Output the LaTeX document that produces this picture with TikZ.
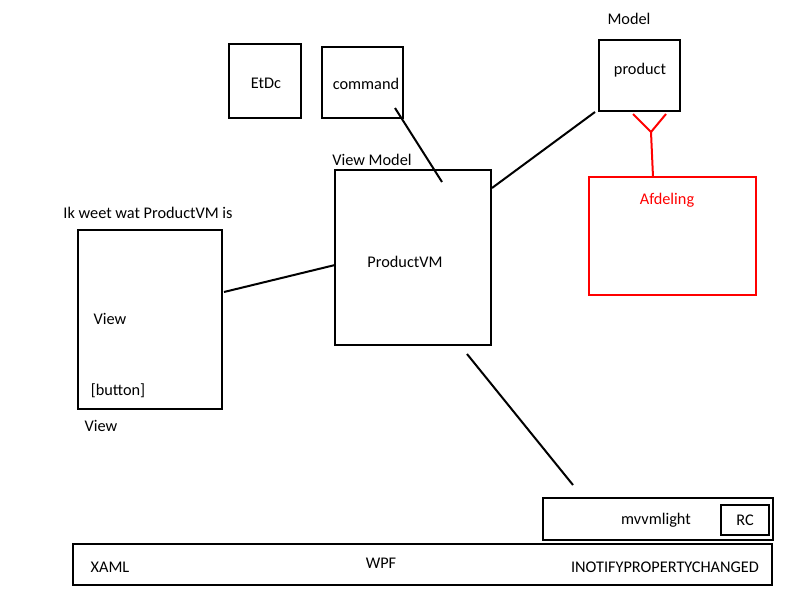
\documentclass[tikz,border=0pt]{standalone}
\usepackage{fontspec}
\setmainfont{Carlito}
\usepackage{tikz}
\usetikzlibrary{positioning,calc}

\begin{document}
\begin{tikzpicture}[x=1pt, y=-1pt, -, line width=2pt, font=\fontsize{16.3}{19}\selectfont]
	\tikzset{
		box/.style={draw, rectangle, inner sep=0pt},
		txt/.style={inner sep=0pt},
		redbox/.style={box, draw=red},
	}
	\useasboundingbox (0,0) rectangle (800,600);
	
	% top row
	\node [box, minimum width=72pt, minimum height=74pt] (etdc) at (265,81) {};
	\node [txt] (etdclbl) at (266,83) {EtDc};
	\node [box, minimum width=81pt, minimum height=71pt] (command) at (362.5,82.5) {};
	\node [txt] (commandlbl) at (366,84) {command};
	
	\node [txt] (modellbl) at (629,19) {Model};
	\node [box, minimum width=81pt, minimum height=71pt] (product) at (639.5,75.5) {};
	\node [txt] (productlbl) at (640,70) {product};
	
	\node [redbox, minimum width=167pt, minimum height=118pt] (afdeling) at (672.5,236) {};
	\node [txt, text=red] (afdelinglbl) at (667,200) {Afdeling};
	
	% view model
	\node [txt] (vmlbl) at (372,160) {View Model};
	\node [box, minimum width=156pt, minimum height=175pt] (productvm) at (413,257.5) {};
	\node [txt] (productvmlbl) at (405,262) {ProductVM};
	
	% view
	\node [txt] (ikweet) at (148,213) {Ik weet wat ProductVM is};
	\node [box, minimum width=144pt, minimum height=179pt] (view) at (150,319.5) {};
	\node [txt] (viewlbl) at (110,319) {View};
	\node [txt] (buttonlbl) at (118,391) {[button]};
	\node [txt] (viewbelow) at (101,426) {View};
	
	% frameworks
	\node [box, minimum width=230pt, minimum height=42pt] (mvvm) at (658,519) {};
	\node [txt] (mvvmlbl) at (656,520) {mvvmlight};
	\node [box, minimum width=48pt, minimum height=30pt] (rc) at (745,520) {RC};
	\node [box, minimum width=699pt, minimum height=41pt] (wpf) at (422.5,564.5) {};
	\node [txt] (xaml) at (110,567) {XAML};
	\node [txt] (wpflbl) at (381,563) {WPF};
	\node [txt] (inotify) at (665,567) {INOTIFYPROPERTYCHANGED};
	
	% connector ends
	\coordinate (c1) at (395,108);
	\coordinate (c2) at (442,182);
	\coordinate (p1) at (492,188);
	\coordinate (p2) at (595,112);
	\coordinate (v1) at (224,292);
	\coordinate (v2) at (335,265);
	\coordinate (m1) at (467,354);
	\coordinate (m2) at (573,485);
	\coordinate (fl) at (633,114);
	\coordinate (fr) at (666,114);
	\coordinate (fj) at (651,132);
	\coordinate (fb) at (653,177);
	
	\path (c1) edge (c2);
	\path (p1) edge (p2);
	\path (v1) edge (v2);
	\path (m1) edge (m2);
	
	% crow's foot
	\draw [red] (fl) -- (fj) -- (fr);
	\draw [red] (fj) -- (fb);
\end{tikzpicture}
\end{document}
